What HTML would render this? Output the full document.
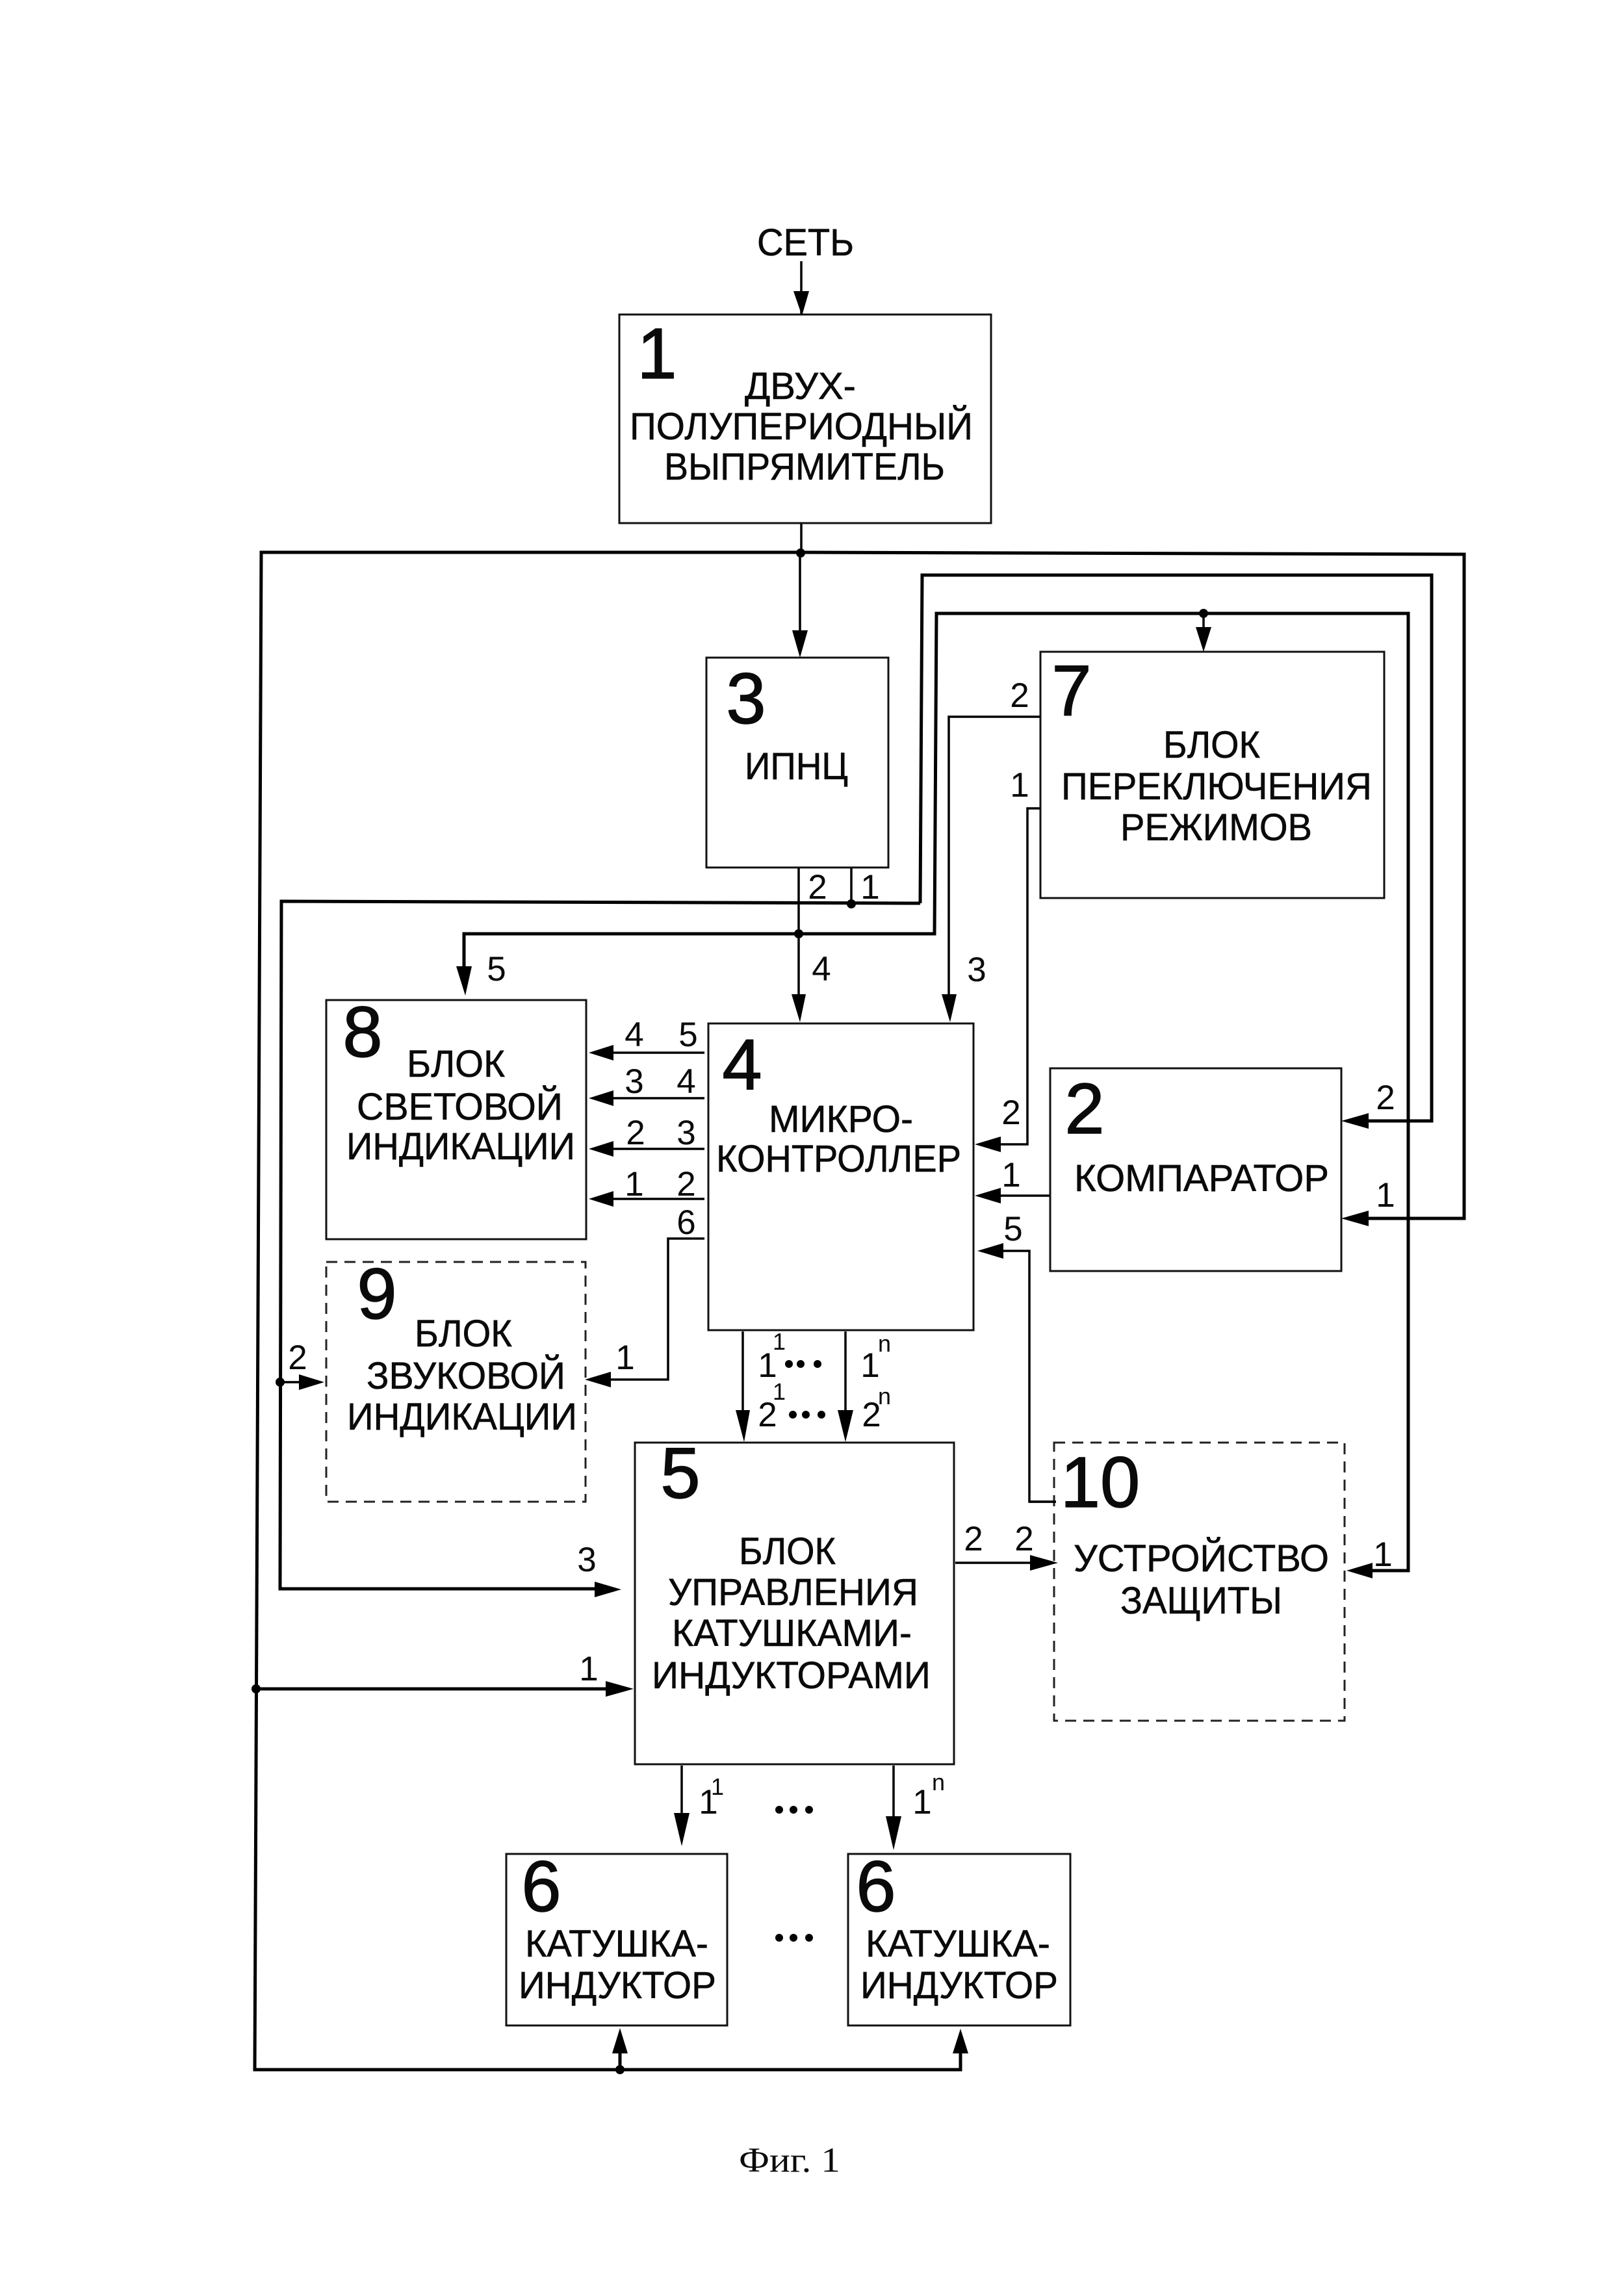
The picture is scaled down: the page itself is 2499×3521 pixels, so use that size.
<!DOCTYPE html>
<html><head><meta charset="utf-8">
<style>
html,body{margin:0;padding:0;background:#fff}
svg{display:block}
text{font-family:"Liberation Sans",sans-serif;fill:#0a0a0a}
.l{font-size:58px;stroke:#0a0a0a;stroke-width:.6px}
.n{font-size:110px;text-anchor:middle;stroke:#0a0a0a;stroke-width:1.5px}
.s{font-size:53px;text-anchor:middle}
.u{font-size:36px;text-anchor:middle}
.f{font-family:"Liberation Serif",serif;font-size:54px}
.b{fill:#fff;stroke:#111;stroke-width:3}
.d{fill:#fff;stroke:#222;stroke-width:3;stroke-dasharray:17 11}
.w{fill:none;stroke:#000;stroke-width:5}
.t{fill:none;stroke:#000;stroke-width:3.5}
</style></head><body>
<svg xmlns="http://www.w3.org/2000/svg" width="2499" height="3521" viewBox="0 0 2499 3521">
<rect width="2499" height="3521" fill="#fff"/>

<!-- connectors -->
<g>
<path class="t" d="M1233 402V484"/>
<path class="t" d="M1233 805V849M1231 849V975"/>
<path class="w" d="M1232 850L2253 853V1875H2100"/>
<path class="w" d="M1232 850H402L392 3185H1478V3160"/>
<path class="w" d="M954 3185V3160"/>
<path class="w" d="M1416 1390L1419 885H2203V1725H2100"/>
<path class="w" d="M1416 1390L433 1387L431 2445H920"/>
<path class="w" d="M714 1500V1437H1438L1441 944H2167V2417H2105"/>
<path class="t" d="M1852 937V970"/>
<path class="t" d="M1229 1335V1540"/>
<path class="t" d="M1310 1335V1392"/>
<path class="t" d="M1601 1103H1460V1545"/>
<path class="t" d="M1601 1244H1581V1761H1535"/>
<path class="t" d="M1084 1620H940M1084 1690H940M1084 1768H940M1084 1845H940"/>
<path class="t" d="M1084 1906H1028V2123H935"/>
<path class="t" d="M1616 1840H1535"/>
<path class="t" d="M1625 2311H1584V1925H1535"/>
<path class="t" d="M431 2127H470"/>
<path class="t" d="M1143 2049V2190M1301 2049V2190"/>
<path class="t" d="M1470 2405H1590"/>
<path class="w" d="M394 2599H940"/>
<path class="t" d="M1049 2717V2800M1375 2717V2805"/>
</g>

<!-- boxes -->
<rect class="b" x="953" y="484" width="572" height="321"/>
<rect class="b" x="1087" y="1012" width="280" height="323"/>
<rect class="b" x="1601" y="1003" width="529" height="379"/>
<rect class="b" x="1090" y="1575" width="408" height="472"/>
<rect class="b" x="502" y="1539" width="400" height="368"/>
<rect class="d" x="502" y="1942" width="399" height="369"/>
<rect class="b" x="1616" y="1644" width="448" height="312"/>
<rect class="b" x="977" y="2220" width="491" height="495"/>
<rect class="d" x="1622" y="2220" width="447" height="428"/>
<rect class="b" x="779" y="2853" width="340" height="264"/>
<rect class="b" x="1305" y="2853" width="342" height="264"/>

<path class="t" d="M1625 2311H1584"/>

<!-- arrowheads -->
<g fill="#000">
<polygon points="1221,448 1245,448 1234,486"/>
<polygon points="1219,970 1243,970 1231,1012"/>
<polygon points="1840,965 1864,965 1852,1003"/>
<polygon points="702,1487 726,1487 716,1532"/>
<polygon points="1218,1530 1240,1530 1231,1573"/>
<polygon points="1449,1530 1472,1530 1462,1573"/>
<polygon points="906,1620 944,1608 944,1632"/>
<polygon points="906,1690 944,1678 944,1702"/>
<polygon points="906,1768 944,1756 944,1780"/>
<polygon points="906,1845 944,1833 944,1857"/>
<polygon points="900,2123 940,2111 940,2135"/>
<polygon points="1500,1761 1540,1749 1540,1773"/>
<polygon points="1500,1840 1540,1828 1540,1852"/>
<polygon points="1504,1925 1544,1913 1544,1937"/>
<polygon points="2064,1725 2106,1713 2106,1737"/>
<polygon points="2064,1875 2106,1863 2106,1887"/>
<polygon points="2072,2417 2112,2405 2112,2429"/>
<polygon points="499,2127 460,2115 460,2139"/>
<polygon points="1145,2219 1132,2170 1154,2170"/>
<polygon points="1301,2219 1289,2170 1313,2170"/>
<polygon points="1628,2405 1585,2393 1585,2417"/>
<polygon points="956,2446 915,2434 915,2458"/>
<polygon points="975,2599 932,2587 932,2611"/>
<polygon points="1049,2841 1037,2790 1061,2790"/>
<polygon points="1375,2847 1363,2795 1387,2795"/>
<polygon points="954,3121 942,3160 966,3160"/>
<polygon points="1478,3122 1466,3160 1490,3160"/>
</g>

<!-- junctions -->
<g fill="#000">
<circle cx="1232" cy="851" r="7"/>
<circle cx="1852" cy="944" r="7"/>
<circle cx="1310" cy="1391" r="7"/>
<circle cx="1229" cy="1437" r="7"/>
<circle cx="431" cy="2127" r="7"/>
<circle cx="394" cy="2599" r="7"/>
<circle cx="954" cy="3185" r="7"/>
<circle cx="1214" cy="2099" r="6"/><circle cx="1232" cy="2099" r="6"/><circle cx="1258" cy="2099" r="6"/>
<circle cx="1220" cy="2177" r="6"/><circle cx="1240" cy="2177" r="6"/><circle cx="1264" cy="2177" r="6"/>
<circle cx="1199" cy="2785" r="6"/><circle cx="1221" cy="2785" r="6"/><circle cx="1245" cy="2785" r="6"/>
<circle cx="1199" cy="2982" r="6"/><circle cx="1221" cy="2982" r="6"/><circle cx="1245" cy="2982" r="6"/>
</g>

<!-- block labels -->
<g class="labels">
<text class="l" x="1165" y="393" textLength="149" lengthAdjust="spacingAndGlyphs">СЕТЬ</text>
<text class="l" x="1146" y="614" textLength="171" lengthAdjust="spacingAndGlyphs">ДВУХ-</text>
<text class="l" x="969" y="676" textLength="528" lengthAdjust="spacingAndGlyphs">ПОЛУПЕРИОДНЫЙ</text>
<text class="l" x="1022" y="738" textLength="432" lengthAdjust="spacingAndGlyphs">ВЫПРЯМИТЕЛЬ</text>
<text class="l" x="1146" y="1199" textLength="159" lengthAdjust="spacingAndGlyphs">ИПНЦ</text>
<text class="l" x="1790" y="1166" textLength="149" lengthAdjust="spacingAndGlyphs">БЛОК</text>
<text class="l" x="1633" y="1230" textLength="478" lengthAdjust="spacingAndGlyphs">ПЕРЕКЛЮЧЕНИЯ</text>
<text class="l" x="1724" y="1293" textLength="295" lengthAdjust="spacingAndGlyphs">РЕЖИМОВ</text>
<text class="l" x="626" y="1657" textLength="151" lengthAdjust="spacingAndGlyphs">БЛОК</text>
<text class="l" x="549" y="1723" textLength="317" lengthAdjust="spacingAndGlyphs">СВЕТОВОЙ</text>
<text class="l" x="533" y="1784" textLength="352" lengthAdjust="spacingAndGlyphs">ИНДИКАЦИИ</text>
<text class="l" x="1183" y="1742" textLength="222" lengthAdjust="spacingAndGlyphs">МИКРО-</text>
<text class="l" x="1102" y="1803" textLength="377" lengthAdjust="spacingAndGlyphs">КОНТРОЛЛЕР</text>
<text class="l" x="1653" y="1833" textLength="392" lengthAdjust="spacingAndGlyphs">КОМПАРАТОР</text>
<text class="l" x="638" y="2072" textLength="150" lengthAdjust="spacingAndGlyphs">БЛОК</text>
<text class="l" x="564" y="2137" textLength="306" lengthAdjust="spacingAndGlyphs">ЗВУКОВОЙ</text>
<text class="l" x="534" y="2200" textLength="354" lengthAdjust="spacingAndGlyphs">ИНДИКАЦИИ</text>
<text class="l" x="1137" y="2407" textLength="149" lengthAdjust="spacingAndGlyphs">БЛОК</text>
<text class="l" x="1028" y="2470" textLength="385" lengthAdjust="spacingAndGlyphs">УПРАВЛЕНИЯ</text>
<text class="l" x="1034" y="2533" textLength="369" lengthAdjust="spacingAndGlyphs">КАТУШКАМИ-</text>
<text class="l" x="1003" y="2598" textLength="429" lengthAdjust="spacingAndGlyphs">ИНДУКТОРАМИ</text>
<text class="l" x="1652" y="2418" textLength="393" lengthAdjust="spacingAndGlyphs">УСТРОЙСТВО</text>
<text class="l" x="1724" y="2483" textLength="249" lengthAdjust="spacingAndGlyphs">ЗАЩИТЫ</text>
<text class="l" x="808" y="3011" textLength="282" lengthAdjust="spacingAndGlyphs">КАТУШКА-</text>
<text class="l" x="798" y="3075" textLength="304" lengthAdjust="spacingAndGlyphs">ИНДУКТОР</text>
<text class="l" x="1332" y="3011" textLength="284" lengthAdjust="spacingAndGlyphs">КАТУШКА-</text>
<text class="l" x="1324" y="3075" textLength="304" lengthAdjust="spacingAndGlyphs">ИНДУКТОР</text>
</g>

<!-- block numbers -->
<text class="n" x="1011" y="582">1</text>
<text class="n" x="1148" y="1113">3</text>
<text class="n" x="1649" y="1101">7</text>
<text class="n" x="558" y="1626">8</text>
<text class="n" x="1142" y="1676">4</text>
<text class="n" x="1669" y="1744">2</text>
<text class="n" x="580" y="2029">9</text>
<text class="n" x="1047" y="2305">5</text>
<text class="n" x="1693" y="2319">10</text>
<text class="n" x="833" y="2941">6</text>
<text class="n" x="1348" y="2941">6</text>

<!-- port numbers -->
<g>
<text class="s" x="1569" y="1088">2</text>
<text class="s" x="1569" y="1226">1</text>
<text class="s" x="1258" y="1383">2</text>
<text class="s" x="1339" y="1383">1</text>
<text class="s" x="764" y="1509">5</text>
<text class="s" x="1264" y="1509">4</text>
<text class="s" x="1503" y="1510">3</text>
<text class="s" x="976" y="1610">4</text><text class="s" x="1059" y="1610">5</text>
<text class="s" x="976" y="1682">3</text><text class="s" x="1056" y="1682">4</text>
<text class="s" x="978" y="1761">2</text><text class="s" x="1056" y="1761">3</text>
<text class="s" x="976" y="1840">1</text><text class="s" x="1056" y="1840">2</text>
<text class="s" x="1056" y="1899">6</text>
<text class="s" x="1556" y="1730">2</text>
<text class="s" x="1556" y="1826">1</text>
<text class="s" x="1559" y="1909">5</text>
<text class="s" x="2132" y="1707">2</text>
<text class="s" x="2132" y="1857">1</text>
<text class="s" x="458" y="2107">2</text>
<text class="s" x="962" y="2107">1</text>
<text class="s" x="1181" y="2119">1</text><text class="u" x="1199" y="2077">1</text>
<text class="s" x="1339" y="2119">1</text><text class="u" x="1361" y="2080">n</text>
<text class="s" x="1181" y="2195">2</text><text class="u" x="1199" y="2154">1</text>
<text class="s" x="1341" y="2195">2</text><text class="u" x="1361" y="2161">n</text>
<text class="s" x="1498" y="2386">2</text><text class="s" x="1576" y="2386">2</text>
<text class="s" x="2128" y="2410">1</text>
<text class="s" x="903" y="2418">3</text>
<text class="s" x="906" y="2586">1</text>
<text class="s" x="1090" y="2791">1</text><text class="u" x="1104" y="2762">1</text>
<text class="s" x="1419" y="2791">1</text><text class="u" x="1444" y="2755">n</text>
</g>

<text class="f" x="1137" y="3342" textLength="156" lengthAdjust="spacingAndGlyphs">Фиг. 1</text>
</svg>
</body></html>
